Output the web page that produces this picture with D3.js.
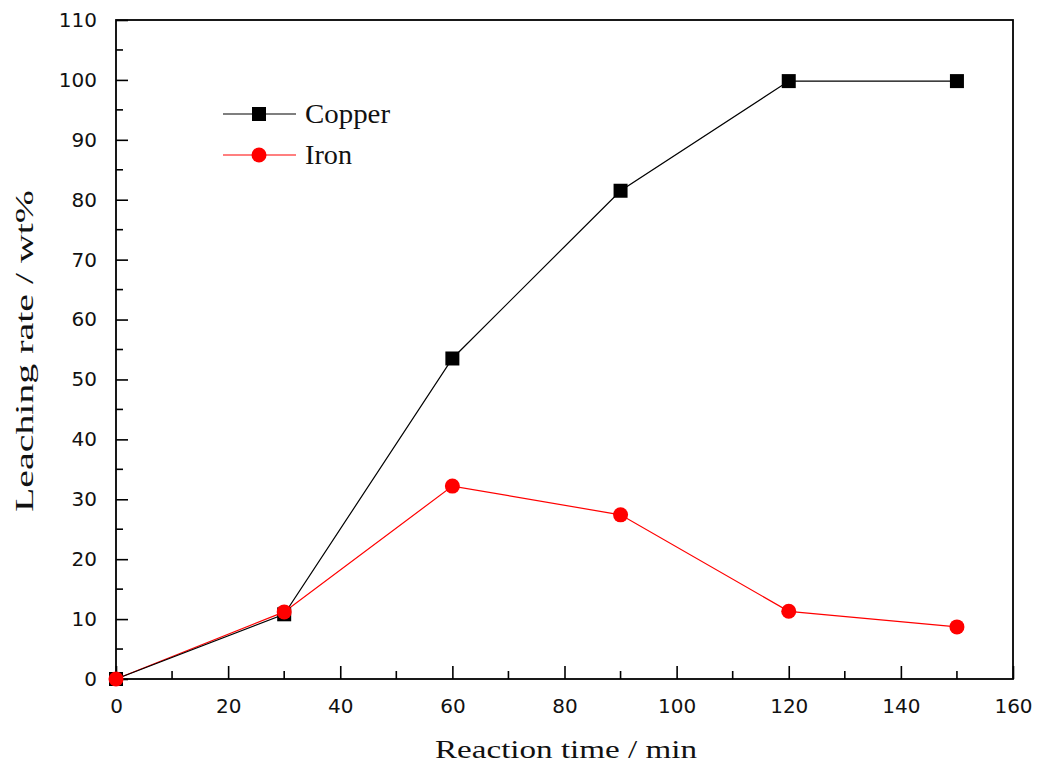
<!DOCTYPE html>
<html><head><meta charset="utf-8">
<script src="https://cdn.jsdelivr.net/npm/d3@7"></script>
<style>body{margin:0;background:#fff}</style>
</head><body>
<svg id="c" width="1040" height="769"></svg>
<script>
const times = [0, 30, 60, 90, 120, 150];
const copper = [0, 10.8, 53.5, 81.5, 99.8, 99.8];
const iron = [0, 11.2, 32.2, 27.4, 11.3, 8.7];
const xTicks = [0, 20, 40, 60, 80, 100, 120, 140, 160];
const yTicks = [0, 10, 20, 30, 40, 50, 60, 70, 80, 90, 100, 110];
const seriesNames = ["Copper", "Iron"];

const svg = d3.select("#c");
const L = 116, R = 1013, T = 20, B = 679;
const x = d3.scaleLinear().domain([0, 160]).range([L, R]);
const y = d3.scaleLinear().domain([0, 110]).range([B, T]);
const tickFont = "'DejaVu Sans', Verdana, sans-serif";
const serif = "'Liberation Serif', 'Times New Roman', serif";

// frame
svg.append("rect").attr("x", L).attr("y", T).attr("width", R - L).attr("height", B - T)
  .attr("fill", "none").attr("stroke", "#000").attr("stroke-width", 1.8);

// x ticks
const xMinor = d3.range(10, 160, 20);
const xAxis = d3.axisBottom(x).tickValues(xTicks).tickSizeInner(-13).tickSizeOuter(0).tickPadding(20).tickFormat(d3.format("d"));
const gx = svg.append("g").attr("transform", `translate(0,${B})`).call(xAxis);
gx.select(".domain").remove();
gx.selectAll("line").attr("stroke-width", 1.6);
gx.selectAll("text").attr("font-family", tickFont).attr("font-size", 20).attr("fill", "#111");
gx.selectAll(".minor").data(xMinor).enter().append("line")
  .attr("x1", d => x(d)).attr("x2", d => x(d)).attr("y1", 0).attr("y2", -8)
  .attr("stroke", "#000").attr("stroke-width", 1.6);

// y ticks
const yMinor = d3.range(5, 110, 10);
const yAxis = d3.axisLeft(y).tickValues(yTicks).tickSizeInner(-12).tickSizeOuter(0).tickPadding(19).tickFormat(d3.format("d"));
const gy = svg.append("g").attr("transform", `translate(${L},0)`).call(yAxis);
gy.select(".domain").remove();
gy.selectAll("line").attr("stroke-width", 1.6);
gy.selectAll("text").attr("font-family", tickFont).attr("font-size", 20).attr("fill", "#111");
gy.selectAll(".minor").data(yMinor).enter().append("line")
  .attr("y1", d => y(d)).attr("y2", d => y(d)).attr("x1", 0).attr("x2", 7)
  .attr("stroke", "#000").attr("stroke-width", 1.6);

// axis titles
svg.append("text").attr("x", 435).attr("y", 758)
  .attr("font-family", serif).attr("font-size", 26).attr("fill", "#111")
  .attr("textLength", 262).attr("lengthAdjust", "spacingAndGlyphs")
  .text("Reaction time / min");
svg.append("text").attr("transform", `translate(33,512) rotate(-90)`)
  .attr("font-family", serif).attr("font-size", 26).attr("fill", "#111")
  .attr("textLength", 322).attr("lengthAdjust", "spacingAndGlyphs")
  .text("Leaching rate / wt%");

const line = d3.line().x((d, i) => x(times[i])).y(d => y(d));

// iron
svg.append("path").datum(iron).attr("d", line).attr("fill", "none").attr("stroke", "#ff0000").attr("stroke-width", 1.2);
// copper
svg.append("path").datum(copper).attr("d", line).attr("fill", "none").attr("stroke", "#000").attr("stroke-width", 1.2);

svg.selectAll(".cu").data(copper).enter().append("rect")
  .attr("x", (d, i) => x(times[i]) - 7).attr("y", d => y(d) - 7).attr("width", 14).attr("height", 14).attr("fill", "#000");
svg.selectAll(".fe").data(iron).enter().append("circle")
  .attr("cx", (d, i) => x(times[i])).attr("cy", d => y(d)).attr("r", 7.5).attr("fill", "#ff0000");

// legend
const leg = svg.append("g");
const ly = [114, 155];
const colors = ["#000", "#ff0000"];
const legW = [85, 47];
seriesNames.forEach((n, i) => {
  leg.append("line").attr("x1", 223).attr("x2", 296).attr("y1", ly[i]).attr("y2", ly[i]).attr("stroke", colors[i]).attr("stroke-width", 1.2);
  if (i === 0) leg.append("rect").attr("x", 259 - 7).attr("y", ly[i] - 7).attr("width", 14).attr("height", 14).attr("fill", colors[i]);
  else leg.append("circle").attr("cx", 259).attr("cy", ly[i]).attr("r", 7.5).attr("fill", colors[i]);
  leg.append("text").attr("x", 305).attr("y", ly[i] + 9).attr("font-family", serif).attr("font-size", 27).attr("fill", "#111")
    .attr("textLength", legW[i]).attr("lengthAdjust", "spacingAndGlyphs").text(n);
});
</script>
</body></html>
